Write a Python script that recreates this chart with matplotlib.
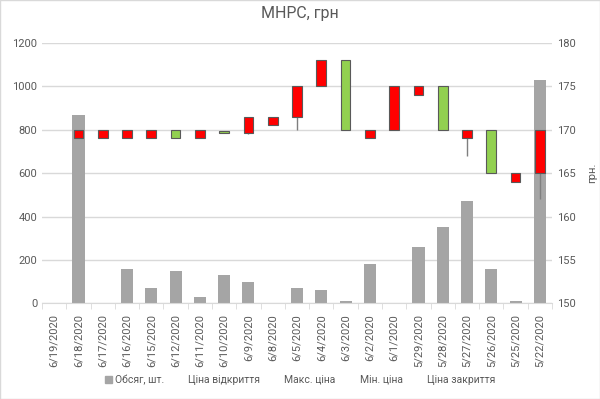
import matplotlib.pyplot as plt
import matplotlib.patches as mpatches
import numpy as np

plt.rcParams['font.family'] = ['Roboto', 'DejaVu Sans']

dates = ["6/19/2020", "6/18/2020", "6/17/2020", "6/16/2020", "6/15/2020", "6/12/2020",
         "6/11/2020", "6/10/2020", "6/9/2020", "6/8/2020", "6/5/2020", "6/4/2020",
         "6/3/2020", "6/2/2020", "6/1/2020", "5/29/2020", "5/28/2020", "5/27/2020",
         "5/26/2020", "5/25/2020", "5/22/2020"]
volume = [0, 870, 0, 160, 70, 150, 30, 130, 100, 0, 70, 60, 10, 180, 0, 260, 350, 470, 160, 10, 1030]
open_p = [np.nan, 170, 170, 170, 170, 169, 170, 169.6, 171.5, 171.5, 175, 178, 170, 170, 175, 175, 170, 170, 165, 165, 170]
high_p = [np.nan, 170, 170, 170, 170, 170, 170, 169.9, 171.5, 171.5, 175, 178, 178, 170, 175, 175, 175, 170, 170, 165, 170]
low_p = [np.nan, 169, 169, 169, 169, 169, 169, 169.6, 169.5, 170.5, 170, 175, 170, 169, 170, 174, 170, 167, 165, 164, 162]
close_p = [np.nan, 169, 169, 169, 169, 170, 169, 169.9, 169.6, 170.5, 171.5, 175, 178, 169, 170, 174, 175, 169, 170, 164, 165]

txt = "#595959"
grid = "#d9d9d9"

fig = plt.figure(figsize=(6, 3.99), dpi=100)
ax = fig.add_axes([0.07, 0.24, 0.85, 0.652])
ax2 = ax.twinx()

x = np.arange(len(dates))
ax.bar(x, volume, width=0.5, color="#a5a5a5", zorder=2)
ax.set_ylim(0, 1200)
ax.set_yticks(range(0, 1201, 200))
ax.grid(axis="y", color=grid, linewidth=1, zorder=0)
ax.set_axisbelow(True)
ax.set_xlim(-0.5, len(dates) - 0.5)
ax.set_xticks(x)
ax.set_xticklabels(dates, rotation=90, fontsize=8, color=txt)
ax.set_xticks(np.arange(-0.5, len(dates), 1), minor=True)
ax.tick_params(axis="x", which="major", length=0, pad=8)
ax.tick_params(axis="x", which="minor", length=4, color=grid)
ax.tick_params(axis="y", length=0, labelsize=8, labelcolor=txt)

for i in range(len(dates)):
    o, h, l, c = open_p[i], high_p[i], low_p[i], close_p[i]
    if np.isnan(o):
        continue
    ax2.vlines(i, l, h, color="#7f7f7f", linewidth=1, zorder=3)
    col = "#92d050" if c >= o else "#ff0000"
    ax2.bar(i, abs(c - o), bottom=min(o, c), width=0.4, color=col,
            edgecolor="#595959", linewidth=0.8, zorder=4)

ax2.set_ylim(150, 180)
ax2.set_yticks(range(150, 181, 5))
ax2.tick_params(axis="y", length=0, labelsize=8, labelcolor=txt)
ax2.set_ylabel("грн.", fontsize=8, color=txt, rotation=90, labelpad=8)

for a in (ax, ax2):
    for s in a.spines.values():
        s.set_visible(False)
ax.spines["bottom"].set_visible(True)
ax.spines["bottom"].set_color(grid)

fig.suptitle("МНРС, грн", y=0.985, fontsize=11.5, color=txt)

handles = [mpatches.Patch(color="#a5a5a5")] + [mpatches.Patch(alpha=0) for _ in range(4)]
labels = ["Обсяг, шт.", "Ціна відкриття", "Макс. ціна", "Мін. ціна", "Ціна закриття"]
fig.legend(handles, labels, loc="center", bbox_to_anchor=(0.5, 0.048), ncol=5,
           frameon=False, fontsize=7.5, labelcolor=txt, handlelength=0.7,
           handleheight=0.7, handletextpad=0.3, columnspacing=1.3)

fig.patches.append(mpatches.Rectangle((0, 0), 1, 1, transform=fig.transFigure,
                                      fill=False, edgecolor="#d9d9d9", linewidth=1))

plt.savefig("out.png", dpi=100)
